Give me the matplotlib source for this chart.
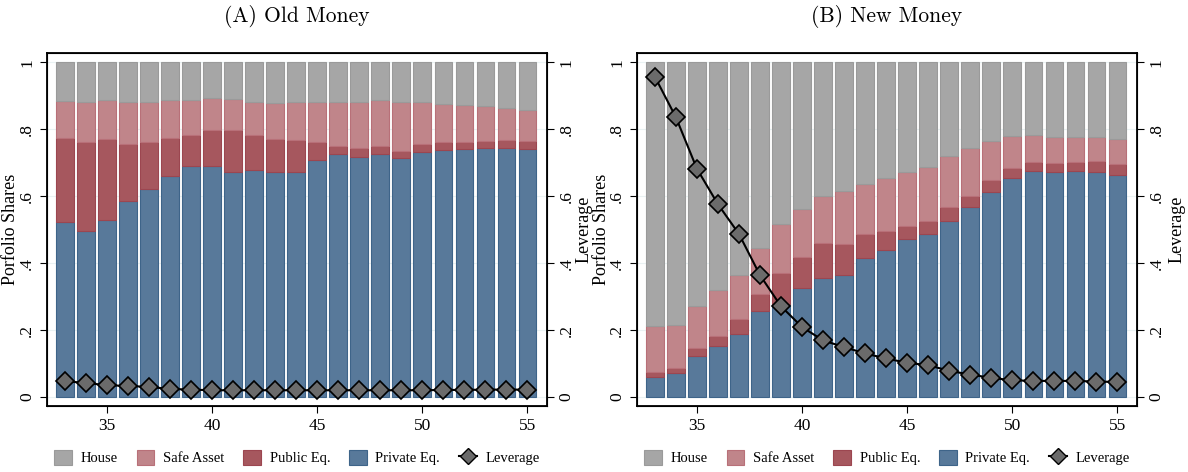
import matplotlib
matplotlib.use("Agg")
import matplotlib.pyplot as plt
from matplotlib.patches import Patch
from matplotlib.lines import Line2D

ages = list(range(33, 56))

# Old money: portfolio shares by age
old_private = [.523, .497, .528, .587, .623, .659, .689, .691, .671, .678, .671, .673,
               .709, .725, .718, .727, .713, .733, .739, .740, .743, .743, .742]
old_public = [.252, .264, .244, .170, .140, .116, .095, .106, .128, .105, .099, .094,
              .052, .026, .025, .024, .021, .022, .022, .021, .022, .024, .022]
old_safe = [.111, .122, .116, .126, .120, .113, .104, .097, .093, .100, .110, .115,
            .122, .132, .140, .137, .149, .127, .116, .113, .106, .098, .095]
old_house = [.114, .117, .112, .117, .117, .112, .112, .106, .108, .117, .120, .118,
             .117, .117, .117, .112, .117, .118, .123, .126, .129, .135, .141]
old_leverage = [.047, .042, .035, .033, .030, .024, .022, .020, .020, .020, .020, .020,
                .020, .020, .020, .020, .020, .020, .021, .021, .022, .022, .022]

# New money
new_private = [.060, .073, .122, .152, .189, .257, .279, .325, .357, .366, .416, .439,
               .471, .486, .527, .569, .613, .654, .674, .672, .674, .672, .662]
new_public = [.016, .015, .023, .031, .044, .052, .090, .094, .102, .090, .070, .058,
              .041, .040, .041, .033, .034, .029, .027, .026, .027, .032, .033]
new_safe = [.135, .128, .127, .138, .133, .137, .149, .144, .143, .161, .149, .156,
            .161, .162, .151, .141, .118, .096, .083, .078, .075, .072, .075]
new_house = [.789, .784, .728, .679, .634, .554, .482, .437, .398, .383, .365, .347,
             .327, .312, .281, .257, .235, .221, .216, .224, .224, .224, .230]
new_leverage = [.957, .836, .682, .576, .487, .364, .271, .209, .169, .149, .130, .115,
                .102, .095, .078, .067, .057, .050, .048, .048, .048, .046, .045]

labels = ["House", "Safe Asset", "Public Eq.", "Private Eq.", "Leverage"]
colors = {"House": "#a6a6a6", "Safe Asset": "#c0858a", "Public Eq.": "#a6575e", "Private Eq.": "#58799a"}
edges = {"House": "#9a9a9a", "Safe Asset": "#b87078", "Public Eq.": "#9c4650", "Private Eq.": "#3e6489"}

plt.rcParams['font.family'] = ['Liberation Serif', 'DejaVu Serif']
W, H = 1188, 472


def draw_panel(left_px, title, private, public, safe, house, leverage, right_lab):
    ax = plt.gcf().add_axes([left_px / W, 66 / H, 500 / W, 353 / H])
    for y in [0, .2, .4, .6, .8, 1]:
        ax.axhline(y, color="#eaf2f3", lw=0.8, zorder=0)
    bottom = [0] * len(ages)
    for name, vals in [("Private Eq.", private), ("Public Eq.", public),
                       ("Safe Asset", safe), ("House", house)]:
        ax.bar(ages, vals, width=0.84, bottom=bottom, color=colors[name],
               edgecolor=edges[name], linewidth=0.8, zorder=2)
        bottom = [b + v for b, v in zip(bottom, vals)]
    ax.set_xlim(32.15, 55.93)
    ax.set_ylim(-0.027, 1.028)
    ax.set_xticks([35, 40, 45, 50, 55])
    ax.set_yticks([0, .2, .4, .6, .8, 1])
    ax.set_yticklabels(["0", ".2", ".4", ".6", ".8", "1"], rotation=90, va="center")
    ax.tick_params(labelsize=12.5, length=5, width=0.8)
    for s in ax.spines.values():
        s.set_linewidth(1.3)
    ax.set_ylabel("Porfolio Shares", fontsize=13)
    ax.yaxis.set_label_coords(-0.055, 0.5)

    ax2 = ax.twinx()
    ax2.plot(ages, leverage, color="black", lw=1.5, marker="D", markersize=9,
             markerfacecolor="#6b6b6b", markeredgecolor="black", markeredgewidth=1.2, zorder=5)
    ax2.set_ylim(-0.027, 1.028)
    ax2.set_yticks([0, .2, .4, .6, .8, 1])
    ax2.set_yticklabels(["0", ".2", ".4", ".6", ".8", "1"], rotation=90, va="center")
    ax2.tick_params(labelsize=12.5, length=5, width=0.8)
    ax2.set_ylabel("Leverage", fontsize=13, rotation=90)
    ax2.yaxis.set_label_coords(right_lab, 0.5)

    plt.gcf().text((left_px + 250) / W, 1 - 17 / H, title, ha="center", va="center",
                   fontsize=15.5, family=["cmr10", "DejaVu Serif"])

    handles = [Patch(facecolor=colors[n], edgecolor=edges[n], linewidth=0.8) for n in labels[:4]]
    handles.append(Line2D([], [], color="black", lw=1.5, marker="D", markersize=8,
                          markerfacecolor="#6b6b6b", markeredgecolor="black"))
    ax.legend(handles, labels, loc="center", bbox_to_anchor=(0.5, -0.146), ncol=5,
              frameon=False, fontsize=10.5, handlelength=1.2, handleheight=1.2,
              handletextpad=0.6, columnspacing=1.3)
    return ax


fig = plt.figure(figsize=(W / 100, H / 100), dpi=100)
draw_panel(47, "(A) Old Money", old_private, old_public, old_safe, old_house, old_leverage, 1.058)
draw_panel(637, "(B) New Money", new_private, new_public, new_safe, new_house, new_leverage, 1.064)
fig.savefig("out.png", dpi=100)
